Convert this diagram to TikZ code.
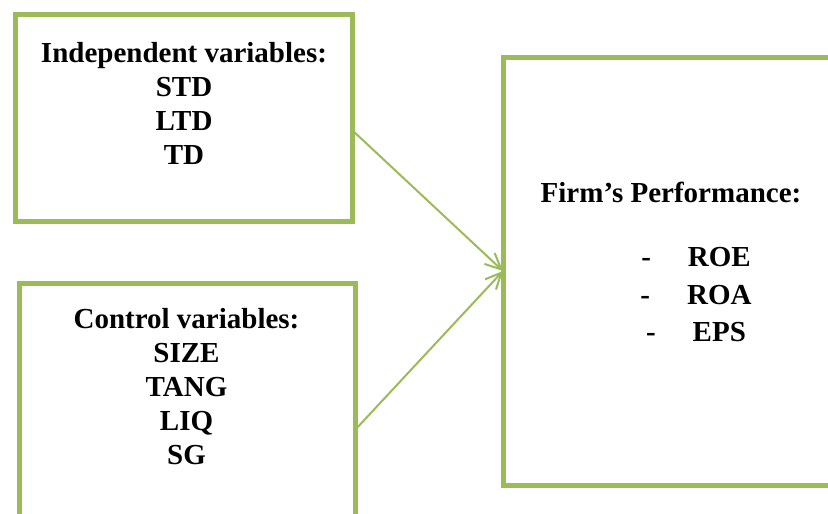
\documentclass[tikz,border=0pt]{standalone}
\usepackage{fontspec}
\setmainfont{Liberation Serif}
\usetikzlibrary{arrows.meta,positioning}
\definecolor{olivegreen}{HTML}{9BBB59}
\newcommand{\boxw}{5pt}
\newcommand{\linkw}{2pt}

\begin{document}
\begin{tikzpicture}[x=1pt,y=-1pt,
    varbox/.style={draw=olivegreen, line width=\boxw, rectangle, outer sep=0pt, inner sep=0pt},
    vartext/.style={align=center, inner sep=0pt, anchor=north, font=\fontsize{29}{34}\selectfont\bfseries},
    link/.style={draw=olivegreen, line width=\linkw, -{Straight Barb[length=16pt,width=15pt,line width=\linkw]}}]
    %\draw[help lines] (0,0) grid (828,514);
        \useasboundingbox (0,0) rectangle (828,514);
        \clip (0,0) rectangle (828,514);
        \node[varbox, minimum width=336.5pt, minimum height=207pt] (indep) at (183.75,117.5) {};
        \node[varbox, minimum width=335.5pt, minimum height=277pt] (ctrl) at (187.25,421.5) {};
        \node[varbox, minimum width=347pt, minimum height=428pt] (perf) at (676.5,271) {};

        \node[vartext] (indeptext) at (184,42.5) {Independent variables:\\STD\\LTD\\TD};
        \node[vartext] (ctrltext) at (186.5,308.5) {Control variables:\\SIZE\\TANG\\LIQ\\SG};
        \node[vartext] (perftext) at (671,182) {Firm’s Performance:};
        \node[vartext, font=\fontsize{29}{37.5}\selectfont\bfseries] (perflist) at (696,247.5)
            {-\hspace{37pt}ROE\\-\hspace{37pt}ROA\\-\hspace{37pt}EPS};

        \draw[link] ([yshift=-12.5pt]indep.east) -- (perf.west);
        \draw[link] ([yshift=-8.5pt]ctrl.east) -- (perf.west);

    \end{tikzpicture}
\end{document}
